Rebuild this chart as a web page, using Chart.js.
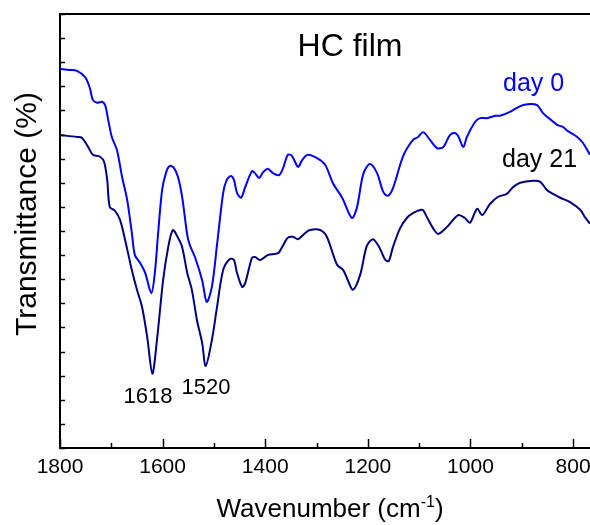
<!DOCTYPE html>
<html>
<head>
<meta charset="utf-8">
<script src="https://cdn.jsdelivr.net/npm/chart.js@4"></script>
<style>
  html, body { margin: 0; padding: 0; background: #fff; }
</style>
</head>
<body>
<canvas id="myChart" width="590" height="525"></canvas>
<script>
// FTIR spectra (wavenumber in cm-1, transmittance in arbitrary %)
var wavenumber0 = [1800,1781,1767,1751,1742,1736,1728,1718,1712,1706,1699,1689,1679,1669,1660,1654,1644,1634,1622,1615,1609,1601,1593,1586,1578,1570,1562,1552,1547,1537,1523,1514,1504,1494,1482,1475,1467,1461,1455,1447,1439,1426,1420,1412,1404,1395,1385,1373,1365,1356,1348,1336,1328,1317,1299,1283,1268,1250,1231,1221,1209,1196,1182,1170,1161,1151,1131,1112,1102,1092,1079,1065,1053,1040,1030,1024,1014,1007,991,981,968,952,942,923,903,888,870,859,845,831,820,810,792,781,767]
var trans0 = [78.6,78.4,78.2,76.9,74.7,72.2,71.6,71.8,71.1,68.0,64.5,61.8,56.2,51.4,44.6,40.0,38.4,36.3,32.1,36.5,44.2,53.5,57.2,58.5,58.1,56.2,52.1,44.2,42.1,39.6,34.8,30.3,33.4,42.1,52.9,55.6,56.4,55.6,52.9,51.9,54.1,57.4,57.0,56.0,57.2,57.9,57.0,56.6,58.1,60.8,60.6,58.3,59.7,60.8,60.1,58.7,54.9,51.9,47.7,50.0,56.8,58.9,57.0,53.1,52.3,53.9,60.6,63.9,64.5,65.5,63.9,62.2,62.4,64.9,65.3,64.7,62.4,64.5,67.6,68.4,68.4,68.9,68.9,69.7,70.9,71.3,71.1,69.5,68.2,67.0,66.6,65.7,64.5,63.3,60.8]

var wavenumber21 = [1800,1767,1757,1745,1736,1722,1714,1708,1703,1693,1683,1673,1660,1650,1640,1630,1620,1611,1599,1589,1580,1570,1562,1552,1543,1533,1523,1516,1504,1494,1482,1469,1461,1455,1445,1439,1426,1420,1410,1395,1375,1367,1356,1346,1336,1322,1313,1293,1280,1260,1248,1239,1229,1215,1202,1190,1178,1166,1159,1151,1137,1124,1112,1094,1085,1073,1063,1046,1024,1011,1001,987,977,962,946,929,917,903,878,864,851,839,825,806,786,777,767]
var trans21 = [64.9,64.5,64.3,62.4,60.8,60.4,59.3,55.6,50.0,49.2,47.3,43.1,36.9,32.8,29.2,23.0,15.4,22.4,34.8,41.7,45.2,43.6,41.7,36.3,32.8,26.5,21.8,17.0,22.4,29.2,36.9,39.2,39.0,36.3,33.4,34.2,39.4,39.6,39.0,40.0,40.4,41.7,43.6,43.8,43.3,44.6,45.2,45.2,43.8,38.0,36.9,34.8,32.8,35.9,41.9,43.3,41.7,39.0,38.8,41.7,45.6,47.7,48.7,49.4,47.9,45.6,44.4,45.8,48.3,47.7,46.7,49.6,48.3,50.6,52.1,52.7,54.1,55.0,55.4,55.2,53.5,52.7,51.9,51.0,49.4,47.9,46.5]

var seriesNames = ["day 0", "day 21"]
var peakLabels = ["1618", "1520"]
var chartTitle = "HC film"

var FONT = "'Liberation Sans', Arial, sans-serif"

function toPoints(xs, ys) {
    var out = []
    for (var i = 0; i < xs.length; i++) {
        out.push({ x: xs[i], y: ys[i] })
    }
    return out
}

// inward ticks, top frame line and all the free text
var decor = {
    id: 'decor',
    afterDraw: function(chart) {
        var ctx = chart.ctx
        var a = chart.chartArea
        var xs = chart.scales.x
        var ys = chart.scales.y
        ctx.save()
        ctx.strokeStyle = '#000'
        ctx.lineWidth = 2
        ctx.beginPath()
        ctx.moveTo(a.left - 1, a.top)
        ctx.lineTo(a.right, a.top)
        ctx.stroke()

        ctx.lineWidth = 1.5
        xs.ticks.forEach(function(t) {
            var px = Math.round(xs.getPixelForValue(t.value)) + 0.5
            var len = (t.value % 200 === 0) ? 9 : 5
            ctx.beginPath()
            ctx.moveTo(px, a.bottom)
            ctx.lineTo(px, a.bottom - len)
            ctx.stroke()
        })
        ys.ticks.forEach(function(t) {
            var py = Math.round(ys.getPixelForValue(t.value)) + 0.5
            ctx.beginPath()
            ctx.moveTo(a.left, py)
            ctx.lineTo(a.left + 5, py)
            ctx.stroke()
        })

        ctx.fillStyle = '#000'
        ctx.textBaseline = 'alphabetic'

        // title
        ctx.font = '32px ' + FONT
        ctx.textAlign = 'center'
        ctx.fillText(chartTitle, 350, 56)

        // series labels
        ctx.font = '25px ' + FONT
        ctx.textAlign = 'left'
        ctx.fillStyle = '#0000ff'
        ctx.fillText(seriesNames[0], 503, 91)
        ctx.fillStyle = '#000'
        ctx.fillText(seriesNames[1], 502, 167)

        // peak labels
        ctx.font = '22px ' + FONT
        ctx.textAlign = 'center'
        ctx.fillText(peakLabels[0], 148, 403)
        ctx.fillText(peakLabels[1], 206, 394)

        // x axis title with superscript
        ctx.textAlign = 'left'
        var big = '26px ' + FONT
        var small = '16px ' + FONT
        ctx.font = big
        var w1 = ctx.measureText('Wavenumber (cm').width
        var w3 = ctx.measureText(')').width
        ctx.font = small
        var w2 = ctx.measureText('-1').width
        var x0 = 330 - (w1 + w2 + w3) / 2
        ctx.font = big
        ctx.fillText('Wavenumber (cm', x0, 517)
        ctx.font = small
        ctx.fillText('-1', x0 + w1, 507)
        ctx.font = big
        ctx.fillText(')', x0 + w1 + w2, 517)

        // y axis title
        ctx.translate(28, 214)
        ctx.rotate(-Math.PI / 2)
        ctx.textAlign = 'center'
        ctx.textBaseline = 'middle'
        ctx.font = '30px ' + FONT
        ctx.fillText('Transmittance (%)', 0, 0)
        ctx.restore()
    }
}

var ctx = document.getElementById('myChart').getContext('2d');
var myChart = new Chart(ctx, {
    type: 'line',
    data: {
        datasets: [{
            label: seriesNames[0],
            data: toPoints(wavenumber0, trans0),
            borderColor: '#0000ff',
            borderWidth: 2,
            fill: false,
            tension: 0.3
        }, {
            label: seriesNames[1],
            data: toPoints(wavenumber21, trans21),
            borderColor: '#000080',
            borderWidth: 2,
            fill: false,
            tension: 0.3
        }]
    },
    options: {
        responsive: false,
        animation: false,
        layout: {
            padding: { top: 14, left: 0, right: 0, bottom: 0 }
        },
        elements: {
            point: { radius: 0 }
        },
        plugins: {
            legend: { display: false },
            tooltip: { enabled: false }
        },
        scales: {
            x: {
                type: 'linear',
                reverse: true,
                min: 767,
                max: 1800,
                border: { color: '#000', width: 2 },
                grid: { drawOnChartArea: false, drawTicks: false },
                ticks: {
                    stepSize: 100,
                    includeBounds: false,
                    autoSkip: false,
                    maxRotation: 0,
                    padding: 7,
                    color: '#000',
                    font: { family: FONT, size: 21 },
                    callback: function(v) { return v % 200 === 0 ? String(v) : '' }
                },
                afterFit: function(s) {
                    s.height = 77
                    s.paddingRight = 0
                    s.paddingLeft = 0
                }
            },
            y: {
                min: 0,
                max: 90,
                border: { color: '#000', width: 2 },
                grid: { drawOnChartArea: false, drawTicks: false },
                ticks: { display: false, stepSize: 5 },
                afterFit: function(s) {
                    s.width = 60
                    s.paddingTop = 0
                    s.paddingBottom = 0
                }
            }
        }
    },
    plugins: [decor]
});
</script>
</body>
</html>
